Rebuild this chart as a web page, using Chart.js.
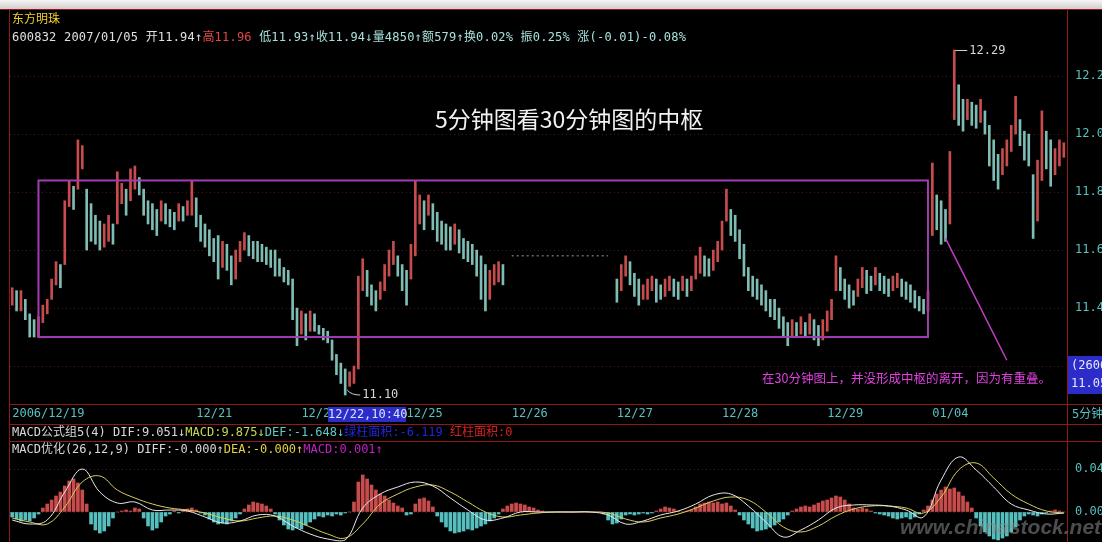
<!DOCTYPE html>
<html>
<head>
<meta charset="utf-8">
<script src="https://cdn.jsdelivr.net/npm/chart.js@4.4.1/dist/chart.umd.min.js"></script>
<style>
  body { margin:0; width:1102px; height:542px; background:#000; overflow:hidden; position:relative;
         font-family:'DejaVu Sans Mono','Noto Sans CJK SC',monospace; }
  .ln { position:absolute; background:#8c1a1a; }
  .tx { position:absolute; white-space:nowrap; font-size:12px; line-height:14px; }
  canvas { position:absolute; left:0; }
</style>
</head>
<body>
<div style="position:absolute;left:0;top:0;width:1102px;height:9px;background:linear-gradient(#f6f6f6,#d4cccc)"></div>
<div class="ln" style="left:0;top:9px;width:1102px;height:1px"></div>
<div class="ln" style="left:9px;top:9px;width:1px;height:533px"></div>
<div class="ln" style="left:1067px;top:9px;width:1px;height:533px"></div>
<div class="ln" style="left:9px;top:404px;width:1093px;height:1px"></div>
<div class="ln" style="left:9px;top:424px;width:1093px;height:1px"></div>
<div class="ln" style="left:9px;top:441px;width:1093px;height:1px"></div>

<canvas id="price" width="1102" height="426" style="top:0"></canvas>
<canvas id="macd" width="1102" height="87" style="top:455px"></canvas>

<div class="tx" style="left:12px;top:11px;color:#f0d028;font-family:'Noto Sans CJK SC'">东方明珠</div>
<div class="tx" style="left:12px;top:30px;color:#a8e0dc;letter-spacing:0.2px">
  <span style="color:#e0e0e0">600832 2007/01/05 开11.94↑</span><span style="color:#e04848">高11.96</span> 低11.93↑收11.94↓量4850↑额579↑换0.02% 振0.25% 涨(-0.01)-0.08%
</div>
<div class="tx" style="left:435px;top:104px;font-family:'Noto Sans CJK SC';font-size:23px;line-height:28px;color:#f2f2f2">5分钟图看30分钟图的中枢</div>
<div class="tx" style="left:762px;top:371px;font-family:'Noto Sans CJK SC';font-size:12.5px;color:#e040e0">在30分钟图上，并没形成中枢的离开，因为有重叠。</div>
<div class="tx" style="left:1068px;top:356px;width:34px;height:38px;padding-left:3px;background:#2c2cc8;color:#e8e8ff;line-height:18px">(2606<br>11.05</div>
<div class="tx" style="left:328px;top:407px;width:78px;height:15px;line-height:15px;background:#2c2cc8;color:#d8e4ff">12/22,10:40</div>
<div class="tx" style="left:1072px;top:407px;color:#58c0c0">5分钟</div>
<div class="tx" style="left:12px;top:425px;color:#d8d8d8">MACD公式组5(4) DIF:9.051↓<span style="color:#c8d850">MACD:9.875↓</span><span style="color:#60c8c0">DEF:-1.648↓</span><span style="color:#2424d8">绿柱面积:-6.119</span> <span style="color:#d82020">红柱面积:0</span></div>
<div class="tx" style="left:12px;top:442px;color:#d8d8d8">MACD优化(26,12,9) DIFF:-0.000↑<span style="color:#e0d040">DEA:-0.000↑</span><span style="color:#c020c8">MACD:0.001↑</span></div>
<div class="tx" style="left:900px;top:515px;font-family:'Liberation Sans';font-weight:bold;font-style:italic;font-size:21px;line-height:24px;color:rgba(140,140,140,0.55)">www.chinastock.net</div>

<script>
// 10-minute slots, one row per trading day
const dayLabels = ['2006/12/19', '', '12/21', '12/22', '12/25', '12/26', '12/27', '12/28', '12/29', '01/04', ''];
const dayStarts = [0, 18, 42, 66, 90, 114, 138, 162, 186, 210, 234];

const hi = [
  11.47,11.46,11.46,11.43,11.38,11.36,11.37,11.41,11.43,11.50,11.56,11.55,11.77,11.84,11.82,11.98,11.96,11.81,
  11.76,11.72,11.70,11.69,11.72,11.69,11.87,11.83,11.81,11.88,11.89,11.85,11.81,11.77,11.76,11.74,11.77,11.76,11.74,11.73,11.76,11.75,11.77,11.84,
  11.78,11.72,11.69,11.67,11.64,11.65,11.63,11.62,11.58,11.60,11.63,11.66,11.65,11.63,11.63,11.62,11.61,11.60,11.60,11.57,11.54,11.53,11.50,11.40,
  11.39,11.38,11.39,11.38,11.34,11.33,11.32,11.29,11.24,11.21,11.19,11.18,11.20,11.51,11.57,11.53,11.48,11.46,11.49,11.55,11.60,11.63,11.58,11.55,
  11.53,11.62,11.84,11.79,11.77,11.79,11.76,11.73,11.70,11.69,11.68,11.69,11.67,11.64,11.63,11.62,11.60,11.58,11.55,11.53,11.55,11.56,11.55,null,
  null,null,null,null,null,null,null,null,null,null,null,null,null,null,null,null,null,null,null,null,null,null,null,null,
  11.50,11.55,11.58,11.56,11.52,11.50,11.48,11.50,11.51,11.50,11.48,11.50,11.51,11.50,11.49,11.51,11.50,11.51,11.58,11.61,11.58,11.57,11.60,11.63,
  11.70,11.81,11.74,11.72,11.67,11.62,11.54,11.51,11.50,11.48,11.46,11.43,11.43,11.40,11.37,11.35,11.36,11.35,11.37,11.35,11.38,11.36,11.34,11.36,
  11.39,11.43,11.58,11.54,11.50,11.48,11.46,11.50,11.54,11.53,11.51,11.54,11.52,11.51,11.50,11.51,11.52,11.50,11.49,11.48,11.46,11.44,11.43,11.46,
  11.90,11.79,11.77,11.74,11.94,12.29,12.17,12.12,12.12,12.11,12.10,12.12,12.08,12.03,11.98,11.93,11.95,11.98,12.03,12.13,12.05,12.01,12.00,11.86,
  11.91,12.08,12.01,11.98,11.95,11.98,11.97
];
const lo = [
  11.41,11.39,11.39,11.36,11.30,11.30,11.30,11.35,11.38,11.43,11.48,11.47,11.55,11.75,11.74,11.81,11.88,11.60,
  11.63,11.62,11.60,11.61,11.63,11.62,11.69,11.76,11.72,11.77,11.81,11.79,11.72,11.69,11.67,11.65,11.70,11.69,11.68,11.67,11.70,11.70,11.72,11.72,
  11.68,11.63,11.61,11.58,11.56,11.50,11.54,11.53,11.48,11.50,11.56,11.60,11.58,11.57,11.56,11.56,11.55,11.54,11.51,11.51,11.49,11.48,11.36,11.27,
  11.31,11.29,11.32,11.32,11.31,11.29,11.28,11.22,11.17,11.14,11.10,11.13,11.14,11.19,11.46,11.44,11.41,11.39,11.43,11.46,11.51,11.55,11.51,11.46,
  11.41,11.50,11.58,11.69,11.67,11.72,11.67,11.63,11.62,11.60,11.60,11.62,11.59,11.57,11.56,11.55,11.51,11.43,11.39,11.43,11.48,11.49,11.48,null,
  null,null,null,null,null,null,null,null,null,null,null,null,null,null,null,null,null,null,null,null,null,null,null,null,
  11.42,11.46,11.51,11.48,11.44,11.41,11.43,11.43,11.46,11.42,11.43,11.44,11.46,11.44,11.43,11.46,11.44,11.46,11.50,11.52,11.51,11.51,11.53,11.56,
  11.60,11.70,11.65,11.63,11.57,11.51,11.46,11.44,11.43,11.41,11.39,11.37,11.36,11.33,11.30,11.27,11.30,11.30,11.31,11.30,11.31,11.29,11.27,11.29,
  11.32,11.36,11.46,11.46,11.43,11.40,11.41,11.44,11.47,11.45,11.46,11.48,11.46,11.45,11.44,11.46,11.47,11.44,11.43,11.42,11.40,11.39,11.38,11.39,
  11.65,11.67,11.62,11.63,11.69,12.05,12.03,12.01,12.05,12.03,12.02,12.04,12.00,11.89,11.84,11.81,11.86,11.89,11.94,12.00,11.96,11.91,11.89,11.64,
  11.70,11.84,11.88,11.82,11.86,11.89,11.92
];

// 12/26 halted: flat dotted price
const haltFrom = 114, haltTo = 136, haltPrice = 11.58;

// 中枢 box and the pointer line
const zone = { from: 6, to: 209, low: 11.30, high: 11.84 };
const pointer = { from: 213, fromPrice: 11.64, to: 227, toPrice: 11.22 };
const priceTicks = [11.2, 11.4, 11.6, 11.8, 12.0, 12.2];

// MACD histogram, one per slot
const macdBar = [
  -0.005,-0.007,-0.009,-0.008,-0.009,-0.006,-0.002,0.004,0.008,0.012,0.016,0.020,0.026,0.031,0.033,0.029,0.022,0.008,
  -0.012,-0.018,-0.021,-0.019,-0.014,-0.006,0,0.001,0.002,0.001,0.004,0.003,-0.006,-0.014,-0.018,-0.016,-0.010,-0.004,-0.002,0.001,-0.001,0.001,0.003,0.004,
  0.002,-0.001,-0.003,-0.007,-0.010,-0.012,-0.011,-0.012,-0.009,-0.006,-0.002,0.003,0.007,0.010,0.009,0.008,0.006,0.003,-0.002,-0.008,-0.013,-0.017,-0.018,-0.016,
  -0.017,-0.013,-0.010,-0.007,-0.004,-0.005,-0.003,-0.004,-0.002,-0.003,-0.001,0,0.010,0.030,0.037,0.033,0.027,0.022,0.018,0.016,0.012,0.009,0.006,0.004,
  -0.003,-0.002,0.008,0.013,0.014,0.011,0.005,-0.004,-0.010,-0.015,-0.019,-0.021,-0.020,-0.019,-0.017,-0.018,-0.016,-0.014,-0.012,-0.009,-0.006,-0.002,0.003,0.006,
  0.008,0.009,0.008,0.007,0.005,0.004,0.002,0.001,0,0,0,0,0,0,0,0,0,0,0,0,0,-0.002,-0.008,-0.012,
  -0.011,-0.007,-0.003,-0.002,-0.003,-0.002,-0.001,-0.002,-0.001,0.001,0.003,0.005,0.004,0.003,0.001,0,0.001,0.002,0.005,0.008,0.009,0.010,0.009,0.010,
  0.008,0.009,0.006,0.002,-0.003,-0.008,-0.012,-0.016,-0.019,-0.018,-0.017,-0.015,-0.013,-0.010,-0.007,-0.003,0.001,0.003,0.005,0.006,0.005,0.007,0.009,0.011,
  0.012,0.014,0.016,0.015,0.012,0.008,0.004,0.003,0.004,0.003,0.001,-0.001,-0.002,-0.003,-0.004,-0.006,-0.007,-0.006,-0.005,-0.007,-0.005,-0.002,0.002,0.006,
  0.012,0.018,0.022,0.025,0.023,0.024,0.020,0.016,0.010,0.004,-0.006,-0.014,-0.020,-0.024,-0.027,-0.028,-0.026,-0.024,-0.020,-0.015,-0.008,-0.004,-0.002,-0.003,
  -0.004,-0.002,-0.001,0.001,0.002,0.001,0
];
// DIFF / DEA read every 4th slot
const lineStep = 4;
const macdDiff = [
  -0.008,-0.012,-0.008,0.020,0.043,0.020,0.009,0.010,0.002,0.002,0.001,-0.005,-0.011,-0.009,-0.003,-0.004,
  -0.014,-0.022,-0.027,-0.028,0.004,0.018,0.025,0.030,0.026,0.014,0.002,-0.008,-0.006,0,0,0,
  0,0,-0.003,-0.012,-0.009,-0.003,0.001,0.008,0.017,0.018,0.006,-0.010,-0.025,-0.018,-0.008,0.004,
  0.007,0.007,0.006,0.002,-0.005,0.032,0.055,0.042,0.025,0.008,0.002,-0.002,-0.001
];
const macdDea = [
  -0.006,-0.010,-0.012,0.005,0.030,0.036,0.022,0.014,0.008,0.004,0.002,-0.001,-0.006,-0.009,-0.006,-0.004,
  -0.008,-0.015,-0.022,-0.026,-0.012,0.008,0.018,0.025,0.027,0.020,0.010,0,-0.005,-0.003,-0.001,0,
  0,0,-0.001,-0.007,-0.010,-0.006,-0.002,0.004,0.011,0.015,0.012,0,-0.015,-0.020,-0.014,-0.004,
  0.003,0.006,0.006,0.004,-0.001,0.015,0.042,0.049,0.034,0.018,0.008,0.001,-0.001
];
const macdTicks = [0, 0.043];

const UP = '#c84c4c', DOWN = '#7ebcb4', CYAN = '#58c0c0';
Chart.defaults.font.family = "'DejaVu Sans Mono','Noto Sans CJK SC',monospace";
Chart.defaults.font.size = 12;

const labels = hi.map((_, i) => {
  const d = dayStarts.indexOf(i);
  return d < 0 ? '' : dayLabels[d];
});

// colour each slot by the move of its mid price
let prevMid = null;
const candleColors = hi.map((h, i) => {
  if (h == null) return DOWN;
  const mid = (h + lo[i]) / 2;
  const c = prevMid == null || mid >= prevMid ? UP : DOWN;
  prevMid = mid;
  return c;
});

// sparse DIFF/DEA readings placed on their slots
const onSlots = vals => labels.map((_, i) => i % lineStep === 0 ? vals[i / lineStep] : null);

// right-hand axis: fixed width, no extra inset for the tick labels
const fixAxis = s => { s.width = 36; s.paddingTop = 0; s.paddingBottom = 0; };

const overlay = {
  id: 'overlay',
  afterDatasetsDraw(chart) {
    const { ctx, scales: { x, y } } = chart;
    ctx.save();
    const x0 = x.getPixelForValue(zone.from), x1 = x.getPixelForValue(zone.to);
    const y0 = y.getPixelForValue(zone.high), y1 = y.getPixelForValue(zone.low);
    ctx.strokeStyle = '#a23cb4';
    ctx.lineWidth = 2;
    ctx.strokeRect(x0, y0, x1 - x0, y1 - y0);

    ctx.strokeStyle = '#c040c4';
    ctx.lineWidth = 1.5;
    ctx.beginPath();
    ctx.moveTo(x.getPixelForValue(pointer.from), y.getPixelForValue(pointer.fromPrice));
    ctx.lineTo(x.getPixelForValue(pointer.to), y.getPixelForValue(pointer.toPrice));
    ctx.stroke();

    // extreme labels
    const top = Math.max(...hi.filter(v => v != null));
    const bottom = Math.min(...lo.filter(v => v != null));
    const ti = hi.indexOf(top), bi = lo.indexOf(bottom);
    ctx.strokeStyle = '#d0d0d0';
    ctx.fillStyle = '#d8d8d8';
    ctx.lineWidth = 1;
    ctx.font = "12px 'DejaVu Sans Mono'";
    ctx.textBaseline = 'middle';
    let px = x.getPixelForValue(ti), py = y.getPixelForValue(top);
    ctx.beginPath();
    ctx.moveTo(px + 1, py + 0.5);
    ctx.lineTo(px + 13, py + 0.5);
    ctx.stroke();
    ctx.fillText(top.toFixed(2), px + 15, py + 1);
    px = x.getPixelForValue(bi); py = y.getPixelForValue(bottom);
    ctx.beginPath();
    ctx.moveTo(px + 2, py - 5);
    ctx.quadraticCurveTo(px + 6, py, px + 15, py);
    ctx.stroke();
    ctx.fillText(bottom.toFixed(2), px + 17, py);
    ctx.restore();
  }
};

new Chart(document.getElementById('price'), {
  type: 'bar',
  data: {
    labels,
    datasets: [{
      data: hi.map((h, i) => h == null ? null : [lo[i], h]),
      backgroundColor: candleColors,
      barThickness: 2,
      order: 2
    }, {
      type: 'line',
      data: labels.map((_, i) => i >= haltFrom && i <= haltTo ? haltPrice : null),
      borderColor: '#a0a0a0',
      borderWidth: 1,
      borderDash: [2, 3],
      pointRadius: 0,
      order: 1
    }]
  },
  options: {
    responsive: false,
    animation: false,
    layout: { padding: { left: 10, top: 12 } },
    plugins: { legend: { display: false }, tooltip: { enabled: false } },
    scales: {
      x: {
        grid: { display: false, drawTicks: false },
        border: { display: false },
        ticks: { autoSkip: false, maxRotation: 0, align: 'start', color: CYAN, padding: 5 },
        afterFit: s => { s.height = 24; s.paddingLeft = 0; s.paddingRight = 0; }
      },
      y: {
        position: 'right',
        min: 11.076,
        max: 12.421,
        afterBuildTicks: s => { s.ticks = priceTicks.map(v => ({ value: v })); },
        grid: { color: '#521414', drawTicks: false },
        border: { display: false, dash: [1, 3] },
        ticks: { color: CYAN, padding: 9, callback: v => v.toFixed(2) },
        afterFit: fixAxis
      }
    }
  },
  plugins: [overlay]
});

new Chart(document.getElementById('macd'), {
  type: 'bar',
  data: {
    labels,
    datasets: [{
      type: 'line',
      data: onSlots(macdDiff),
      borderColor: '#e8e8e8',
      borderWidth: 1,
      pointRadius: 0,
      tension: 0.4,
      spanGaps: true,
      order: 1
    }, {
      type: 'line',
      data: onSlots(macdDea),
      borderColor: '#d8ce58',
      borderWidth: 1,
      pointRadius: 0,
      tension: 0.4,
      spanGaps: true,
      order: 1
    }, {
      data: macdBar,
      backgroundColor: macdBar.map(v => v >= 0 ? UP : '#56c0c0'),
      barThickness: 3,
      order: 2
    }]
  },
  options: {
    responsive: false,
    animation: false,
    layout: { padding: { left: 10 } },
    plugins: { legend: { display: false }, tooltip: { enabled: false } },
    scales: {
      x: { display: false },
      y: {
        position: 'right',
        min: -0.030,
        max: 0.057,
        afterBuildTicks: s => { s.ticks = macdTicks.map(v => ({ value: v })); },
        grid: { color: '#521414', drawTicks: false },
        border: { display: false, dash: [1, 3] },
        ticks: { color: CYAN, padding: 9, callback: v => v.toFixed(3) },
        afterFit: fixAxis
      }
    }
  }
});
</script>
</body>
</html>
